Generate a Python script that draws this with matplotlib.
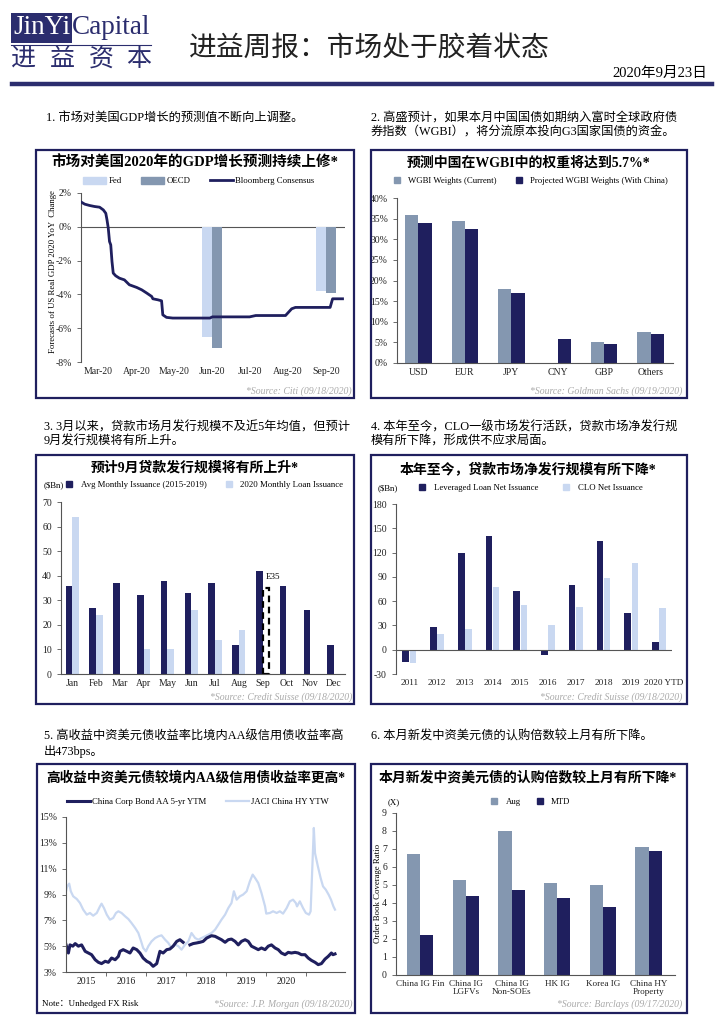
import numpy as np
import matplotlib
matplotlib.use('Agg')
import matplotlib.pyplot as plt
import matplotlib.dates as mdates
from matplotlib.patches import Rectangle, Patch
from matplotlib.lines import Line2D
from matplotlib.ticker import FuncFormatter

plt.rcParams['font.family'] = ['Liberation Serif', 'Noto Sans CJK SC']
plt.rcParams['axes.unicode_minus'] = False

# ---- data ----
# panel 1: US 2020 GDP forecasts
gdp_dates = ['2020-02-16', '2020-02-19', '2020-02-23', '2020-02-27', '2020-03-02', '2020-03-05',
             '2020-03-07', '2020-03-08', '2020-03-09', '2020-03-10', '2020-03-11', '2020-03-12',
             '2020-03-13', '2020-03-15', '2020-03-18', '2020-03-22', '2020-03-26', '2020-04-01',
             '2020-04-05', '2020-04-09', '2020-04-13', '2020-04-14', '2020-04-18', '2020-04-21',
             '2020-04-22', '2020-04-25', '2020-04-30', '2020-05-30', '2020-06-01', '2020-07-01',
             '2020-07-06', '2020-07-30', '2020-08-04', '2020-08-07', '2020-09-04', '2020-09-06',
             '2020-09-14']
gdp_bbg = [1.47, 1.34, 1.26, 1.2, 1.16, 1.0, 0.8, 0.4, -0.08, -0.87, -1.07, -2.05, -2.74, -2.9,
           -3.04, -3.14, -3.43, -3.59, -3.73, -3.92, -4.12, -4.26, -4.32, -4.38, -5.21, -5.36,
           -5.4, -5.4, -5.33, -5.33, -5.25, -5.25, -4.85, -4.77, -4.77, -4.26, -4.26]
fcst_months = ['2020-06-01', '2020-09-01']
fed_fcst = [-6.5, -3.8]
oecd_fcst = [-7.2, -3.9]

# panel 2: WGBI weights
wgbi_ccy = ['USD', 'EUR', 'JPY', 'CNY', 'GBP', 'Others']
wgbi_current = [36.0, 34.5, 17.9, 0.0, 5.0, 7.5]
wgbi_projected = [34.0, 32.4, 17.0, 5.7, 4.7, 7.1]

# panel 3: monthly loan issuance
months = ['Jan', 'Feb', 'Mar', 'Apr', 'May', 'Jun', 'Jul', 'Aug', 'Sep', 'Oct', 'Nov', 'Dec']
avg_issuance = [36, 27, 37, 32, 38, 33, 37, 12, 42, 36, 26, 12]
issuance_2020 = [64, 24, 0, 10, 10, 26, 14, 18, 0, 0, 0, 0]
sep_estimate = 35

# panel 4: net issuance
net_years = ['2011', '2012', '2013', '2014', '2015', '2016', '2017', '2018', '2019', '2020 YTD']
lev_loan_net = [-15, 28, 120, 141, 73, -6, 80, 134, 45, 10]
clo_net = [-17, 20, 26, 78, 55, 30, 53, 88, 107, 52]

# panel 5: yields (fractional year)
aa_t = [2014.00, 2014.06, 2014.10, 2014.17, 2014.23, 2014.31, 2014.39, 2014.48, 2014.56, 2014.64,
        2014.73, 2014.81, 2014.89, 2014.98, 2015.06, 2015.14, 2015.23, 2015.31, 2015.35, 2015.43,
        2015.52, 2015.60, 2015.68, 2015.77, 2015.85, 2015.93, 2016.02, 2016.10, 2016.18, 2016.27,
        2016.35, 2016.43, 2016.52, 2016.60, 2016.68, 2016.77, 2016.85, 2016.93, 2016.96,
        2017.10, 2017.18, 2017.27, 2017.35, 2017.43, 2017.52, 2017.64, 2017.73, 2017.81, 2017.89,
        2017.98, 2018.06, 2018.14, 2018.23, 2018.31, 2018.39, 2018.48, 2018.56, 2018.64, 2018.73,
        2018.81, 2018.89, 2018.98, 2019.06, 2019.14, 2019.23, 2019.31, 2019.39, 2019.48, 2019.56,
        2019.64, 2019.73, 2019.81, 2019.89, 2019.98, 2020.06, 2020.14, 2020.23, 2020.31, 2020.39,
        2020.48, 2020.56, 2020.64, 2020.68, 2020.73]
aa_ytm = [5.12, 4.47, 5.1, 5.0, 5.2, 5.0, 5.1, 4.6, 4.47, 4.34,
          3.95, 3.75, 3.65, 3.83, 3.75, 4.08, 3.95, 4.21, 4.6, 4.73,
          4.6, 4.47, 4.86, 4.73, 4.47, 4.08, 3.83, 3.7, 3.44, 3.65,
          4.6, 4.47, 4.73, 4.78, 5.0, 5.37, 5.5, 5.3, np.nan,
          5.1, 5.2, 5.25, 5.3, 5.37, 5.63, 5.81, 5.76, 5.63, 5.5,
          5.3, 5.5, 5.55, 5.37, 5.1, 5.37, 5.5, 5.37, 5.0, 4.86,
          4.73, 4.86, 4.73, 5.0, 5.1, 4.86, 4.73, 4.47, 4.34, 4.52,
          4.47, 4.52, 4.47, 4.34, 4.34, 4.08, 3.9, 3.75, 3.57, 3.65,
          4.0, 4.21, 4.47, 4.34, 4.4]
hy_t = [2014.00, 2014.03, 2014.08, 2014.12, 2014.18, 2014.27, 2014.35, 2014.43, 2014.52, 2014.60,
        2014.68, 2014.77, 2014.85, 2014.89, 2014.95, 2015.02, 2015.10, 2015.18, 2015.25, 2015.31,
        2015.39, 2015.48, 2015.56, 2015.64, 2015.73, 2015.81, 2015.88, 2015.93, 2016.00, 2016.06,
        2016.14, 2016.23, 2016.31, 2016.39, 2016.48, 2016.56, 2016.64, 2016.73, 2016.81, 2016.89,
        2016.98, 2017.06, 2017.14, 2017.23, 2017.31, 2017.39, 2017.48, 2017.56, 2017.64, 2017.73,
        2017.81, 2017.89, 2017.98, 2018.06, 2018.14, 2018.20, 2018.27, 2018.35, 2018.43, 2018.52,
        2018.60, 2018.67, 2018.73, 2018.81, 2018.89, 2018.98, 2019.01, 2019.10, 2019.18, 2019.27,
        2019.35, 2019.43, 2019.52, 2019.60, 2019.68, 2019.75, 2019.78, 2019.85, 2019.93, 2020.00,
        2020.08, 2020.12, 2020.17, 2020.20, 2020.23, 2020.30, 2020.37, 2020.43, 2020.50, 2020.57,
        2020.63, 2020.69, 2020.73]
hy_ytw = [9.25, 9.63, 9.84, 9.25, 8.86, 8.65, 8.34, 7.83, 7.44, 7.57,
          7.36, 7.57, 8.08, 8.29, 7.95, 7.44, 7.05, 7.18, 7.57, 7.7,
          7.57, 7.31, 7.1, 6.79, 6.41, 6.02, 5.37, 4.86, 4.6, 5.0,
          5.37, 5.63, 5.76, 5.84, 5.5, 5.25, 4.86, 5.12, 5.0, 4.73,
          5.12, 5.37, 6.02, 5.63, 5.5, 5.63, 5.76, 5.89, 6.02, 6.28,
          6.66, 7.05, 7.44, 7.95, 8.34, 9.25, 8.6, 8.86, 8.99, 9.25,
          10.02, 10.54, 10.28, 9.89, 9.12, 8.08, 7.52, 7.57, 7.7, 7.57,
          7.7, 7.52, 7.95, 8.47, 8.6, 8.34, 8.08, 8.47, 7.95, 7.57,
          7.44, 7.7, 11.7, 14.15, 12.2, 11.2, 10.28, 9.63, 9.37, 8.99,
          8.6, 8.08, 7.83]
year_labels = ['2015', '2016', '2017', '2018', '2019', '2020']

# panel 6: order book coverage
ob_cats = ['China IG Fin', 'China IG\nLGFVs', 'China IG\nNon-SOEs', 'HK IG', 'Korea IG', 'China HY\nProperty']
ob_aug = [6.7, 5.3, 8.0, 5.1, 5.0, 7.1]
ob_mtd = [2.2, 4.4, 4.7, 4.3, 3.8, 6.9]

# ---- styles ----
NAVY = '#1f1f5e'
GREYBLUE = '#8497b0'
LIGHT = '#c9d8f1'
AXC = '#555555'
SRC = '#aaaaaa'
LEGFS = 6.3

W, H = 724, 1024
fig = plt.figure(figsize=(W / 100, H / 100), dpi=100)


def px_axes(l, t, r, b):
    return fig.add_axes([l / W, 1 - b / H, (r - l) / W, (b - t) / H])


def ftext(x, y, s, **kw):
    kw.setdefault('va', 'center')
    return fig.text(x / W, 1 - y / H, s, **kw)


def frame(l, t, r, b):
    fig.add_artist(Rectangle((l / W, 1 - b / H), (r - l) / W, (b - t) / H,
                             transform=fig.transFigure, fill=False, edgecolor=NAVY, lw=1.6))


def style(ax):
    for s in ['top', 'right']:
        ax.spines[s].set_visible(False)
    for s in ['left', 'bottom']:
        ax.spines[s].set_color(AXC)
        ax.spines[s].set_linewidth(0.8)
    ax.tick_params(labelsize=7, colors='#222222', length=3, width=0.6)
    ax.tick_params(axis='y', color=AXC)
    ax.tick_params(axis='x', length=0)
    ax.patch.set_alpha(0)


def legend(handles, labels, cx, cy, **kw):
    kw.setdefault('columnspacing', 2.2)
    fig.legend(handles, labels, loc='center', bbox_to_anchor=(cx / W, 1 - cy / H), ncol=len(handles),
               frameon=False, fontsize=LEGFS, handletextpad=0.3, **kw)


def sq(c):
    return Line2D([], [], marker='s', color=c, ls='none', markersize=3.8)


pct = FuncFormatter(lambda v, p: '%d%%' % v)

# ---- header ----
fig.add_artist(Rectangle((11 / W, 1 - 43 / H), 61 / W, 30 / H, transform=fig.transFigure,
                         facecolor='#2b2d6e', edgecolor='none'))
ftext(71, 28, 'JinYi', color='white', fontsize=19.5, ha='right')
ftext(72, 28, 'Capital', color='#2b2d6e', fontsize=19.5, ha='left')
fig.add_artist(Line2D([11 / W, 151 / W], [1 - 45 / H] * 2, color='#2b2d6e', lw=0.8))
for cx, ch in zip([23, 62, 101, 139], '进益资本'):
    ftext(cx, 60, ch, color='#2b2d6e', fontsize=18, ha='center')
ftext(369, 49, '进益周报：市场处于胶着状态', fontsize=20, ha='center', color='#222222')
ftext(707, 73, '2020年9月23日', fontsize=10.5, ha='right')
fig.add_artist(Line2D([12 / W, 712 / W], [1 - 84 / H] * 2, color='#2b2d6e', lw=3.2))

# ---- section texts ----
ftext(46, 118, '1. 市场对美国GDP增长的预测值不断向上调整。', fontsize=8.8)
ftext(371, 118, '2. 高盛预计，如果本月中国国债如期纳入富时全球政府债', fontsize=8.8)
ftext(371, 133, '券指数（WGBI），将分流原本投向G3国家国债的资金。', fontsize=8.8)
ftext(44, 427, '3. 3月以来，贷款市场月发行规模不及近5年均值，但预计', fontsize=8.8)
ftext(44, 442, '9月发行规模将有所上升。', fontsize=8.8)
ftext(371, 427, '4. 本年至今，CLO一级市场发行活跃，贷款市场净发行规', fontsize=8.8)
ftext(371, 442, '模有所下降，形成供不应求局面。', fontsize=8.8)
ftext(44, 737, '5. 高收益中资美元债收益率比境内AA级信用债收益率高', fontsize=8.8)
ftext(44, 752, '出473bps。', fontsize=8.8)
ftext(371, 737, '6. 本月新发中资美元债的认购倍数较上月有所下降。', fontsize=8.8)

# ---- frames ----
frame(36, 150, 354, 398)
frame(371, 150, 687, 398)
frame(36, 455, 354, 704)
frame(371, 455, 687, 704)
frame(37, 764, 355, 1013)
frame(371, 764, 687, 1013)

# ---- panel 1 ----
ax1 = px_axes(81, 193, 345, 362)
style(ax1)
d = mdates.date2num(np.array(gdp_dates, dtype='datetime64[D]'))
m = mdates.date2num(np.array(fcst_months, dtype='datetime64[D]'))
ax1.bar(m - 4, fed_fcst, width=8, color=LIGHT, zorder=2)
ax1.bar(m + 4, oecd_fcst, width=8, color=GREYBLUE, zorder=2)
ax1.plot(d, gdp_bbg, color=NAVY, lw=2, zorder=3)
ax1.axhline(0, color=AXC, lw=0.8, zorder=1)
ax1.spines['bottom'].set_visible(False)
ax1.set_ylim(-8, 2)
ax1.set_yticks(np.arange(-8, 3, 2))
ax1.yaxis.set_major_formatter(pct)
ax1.set_xlim(mdates.date2num(np.datetime64('2020-02-16')), mdates.date2num(np.datetime64('2020-09-16')))
ax1.xaxis.set_major_locator(mdates.MonthLocator(bymonth=range(3, 10)))
ax1.xaxis.set_major_formatter(mdates.DateFormatter('%b-%y'))
ftext(195, 163, '市场对美国2020年的GDP增长预测持续上修*', fontsize=10.5, fontweight='bold', ha='center')
legend([Patch(color=LIGHT), Patch(color=GREYBLUE), Line2D([], [], color=NAVY, lw=2)],
       ['Fed', 'OECD', 'Bloomberg Consensus'], 199, 181, handlelength=2.6, handleheight=0.9)
ftext(53, 272, 'Forecasts of US Real GDP 2020 YoY  Change', fontsize=6.3, rotation=90, ha='center')
ftext(352, 391, '*Source: Citi (09/18/2020)', fontsize=7, style='italic', color=SRC, ha='right')

# ---- panel 2 ----
ax2 = px_axes(397, 198, 673, 363)
style(ax2)
x = np.arange(len(wgbi_ccy))
w = 0.285
ax2.bar(x - w / 2, wgbi_current, width=w, color=GREYBLUE)
ax2.bar(x + w / 2, wgbi_projected, width=w, color=NAVY)
ax2.set_xticks(x)
ax2.set_xticklabels(wgbi_ccy)
ax2.set_xlim(-0.46, 5.48)
ax2.set_ylim(0, 40)
ax2.set_yticks(np.arange(0, 41, 5))
ax2.yaxis.set_major_formatter(pct)
ftext(529, 163, '预测中国在WGBI中的权重将达到5.7%*', fontsize=10, fontweight='bold', ha='center')
legend([sq(GREYBLUE), sq(NAVY)], ['WGBI Weights (Current)', 'Projected WGBI Weights (With China)'], 528, 181,
       columnspacing=1.6)
ftext(682, 391, '*Source: Goldman Sachs (09/19/2020)', fontsize=7, style='italic', color=SRC, ha='right')

# ---- panel 3 ----
ax3 = px_axes(61, 502, 345, 674)
style(ax3)
x = np.arange(len(months))
w = 0.28
ax3.bar(x - w / 2, avg_issuance, width=w, color=NAVY)
ax3.bar(x + w / 2, issuance_2020, width=w, color=LIGHT)
ax3.bar(x[8] + w / 2, sep_estimate, width=w * 0.85, facecolor='white', edgecolor='black',
        ls=(0, (3, 2)), lw=1.6)
ax3.text(x[8] + w / 2 - 0.02, sep_estimate + 4.5, 'E35', fontsize=6.5, ha='left', va='center')
ax3.set_xticks(x)
ax3.set_xticklabels(months)
ax3.set_xlim(-0.47, 11.46)
ax3.set_ylim(0, 70)
ax3.set_yticks(np.arange(0, 71, 10))
ftext(195, 468, '预计9月贷款发行规模将有所上升*', fontsize=10, fontweight='bold', ha='center')
ftext(44, 485, '($Bn)', fontsize=LEGFS)
legend([sq(NAVY), sq(LIGHT)], ['Avg Monthly Issuance (2015-2019)', '2020 Monthly Loan Issuance'], 202, 485,
       columnspacing=1.6)
ftext(352, 697, '*Source: Credit Suisse (09/18/2020)', fontsize=7, style='italic', color=SRC, ha='right')

# ---- panel 4 ----
ax4 = px_axes(396, 504, 672, 674)
style(ax4)
x = np.arange(len(net_years))
w = 0.24
ax4.bar(x - w / 2 - 0.01, lev_loan_net, width=w, color=NAVY)
ax4.bar(x + w / 2 + 0.01, clo_net, width=w, color=LIGHT)
ax4.axhline(0, color=AXC, lw=0.8)
ax4.spines['bottom'].set_visible(False)
ax4.set_xticks(np.append(x[:-1], x[-1] + 0.18))
ax4.set_xticklabels(net_years)
ax4.tick_params(axis='x', labelsize=6.7)
ax4.set_xlim(-0.48, 9.47)
ax4.set_ylim(-30, 180)
ax4.set_yticks(np.arange(-30, 181, 30))
ftext(528, 469, '本年至今，贷款市场净发行规模有所下降*', fontsize=10, fontweight='bold', ha='center')
ftext(378, 488, '($Bn)', fontsize=LEGFS)
legend([sq(NAVY), sq(LIGHT)], ['Leveraged Loan Net Issuance', 'CLO Net Issuance'], 528, 488)
ftext(682, 697, '*Source: Credit Suisse (09/18/2020)', fontsize=7, style='italic', color=SRC, ha='right')

# ---- panel 5 ----
ax5 = px_axes(66, 817, 345, 972)
style(ax5)
ax5.plot(hy_t, hy_ytw, color=LIGHT, lw=1.6)
ax5.plot(aa_t, aa_ytm, color=NAVY, lw=2.2)
ax5.set_xlim(2014.0, 2020.98)
ax5.set_ylim(3, 15)
ax5.set_yticks(np.arange(3, 16, 2))
ax5.yaxis.set_major_formatter(pct)
ax5.set_xticks(np.arange(2014.5, 2020, 1.0))
ax5.set_xticklabels(year_labels)
ax5.set_xticks(np.arange(2015, 2021, 1.0), minor=True)
ax5.tick_params(axis='x', which='minor', length=3, color=AXC)
ftext(196, 778, '高收益中资美元债较境内AA级信用债收益率更高*', fontsize=9.8, fontweight='bold', ha='center')
legend([Line2D([], [], color=NAVY, lw=2.2), Line2D([], [], color=LIGHT, lw=1.6)],
       ['China Corp Bond AA 5-yr YTM', 'JACI China HY YTW'], 198, 802, handlelength=2.6)
ftext(42, 1004, 'Note：Unhedged FX Risk', fontsize=6.5)
ftext(353, 1004, '*Source: J.P. Morgan (09/18/2020)', fontsize=7, style='italic', color=SRC, ha='right')

# ---- panel 6 ----
ax6 = px_axes(396, 813, 675, 975)
style(ax6)
x = np.arange(len(ob_cats))
w = 0.29
ax6.bar(x - w / 2, ob_aug, width=w, color=GREYBLUE)
ax6.bar(x + w / 2, ob_mtd, width=w, color=NAVY)
ax6.set_xticks(x)
ax6.set_xticklabels(ob_cats, linespacing=1.1)
ax6.tick_params(axis='x', labelsize=6.6)
ax6.set_xlim(-0.53, 5.58)
ax6.set_ylim(0, 9)
ax6.set_yticks(np.arange(0, 10, 1))
ftext(528, 778, '本月新发中资美元债的认购倍数较上月有所下降*', fontsize=10, fontweight='bold', ha='center')
ftext(388, 802, '(X)', fontsize=LEGFS)
legend([sq(GREYBLUE), sq(NAVY)], ['Aug', 'MTD'], 528, 802, columnspacing=1.2)
ftext(378, 893, 'Order Book Coverage Ratio', fontsize=6.3, rotation=90, ha='center')
ftext(682, 1004, '*Source: Barclays (09/17/2020)', fontsize=7, style='italic', color=SRC, ha='right')

fig.savefig('out.png', dpi=100, facecolor='white')
